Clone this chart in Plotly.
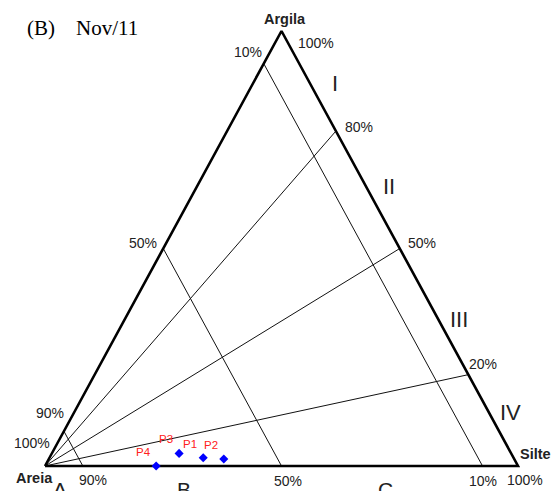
import plotly.graph_objects as go

# ---- data (percent compositions) ----
sample_names = ["P1", "P2", "P3", "P4"]
sample_sand = [65.6, 61.4, 70.2, 76.5]
sample_silt = [32.5, 37.0, 26.9, 23.5]
sample_clay = [1.9, 1.6, 2.9, 0.0]

# constant-sand guide lines (as drawn) and clay-in-mud rays (as drawn)
sand_line_levels = [92.0, 50.0, 7.5]
clay_ray_levels = [77.0, 50.0, 21.0]

left_tick_labels = ["10%", "50%", "90%", "100%"]
right_tick_labels = ["100%", "80%", "50%", "20%"]
base_tick_labels = ["90%", "50%", "10%", "100%"]
region_labels = ["I", "II", "III", "IV"]
class_labels = ["A", "B", "C"]
vertex_labels = ["Argila", "Areia", "Silte"]

W, H = 554, 491


def tern_xy(sand, silt, clay):
    tot = sand + silt + clay
    s, c = silt / tot * 100, clay / tot * 100
    return s + 0.5 * c, c


fig = go.Figure()
LINE = dict(color="#111111", width=1)

# constant sand lines
for s in sand_line_levels:
    x0, y0 = tern_xy(s, 0, 100 - s)
    x1, y1 = tern_xy(s, 100 - s, 0)
    fig.add_trace(go.Scatter(x=[x0, x1], y=[y0, y1], mode="lines", line=LINE,
                             hoverinfo="skip", showlegend=False))
# rays from the sand vertex
for c in clay_ray_levels:
    x0, y0 = tern_xy(100, 0, 0)
    x1, y1 = tern_xy(0, 100 - c, c)
    fig.add_trace(go.Scatter(x=[x0, x1], y=[y0, y1], mode="lines", line=LINE,
                             hoverinfo="skip", showlegend=False))

# triangle outline
verts = [tern_xy(100, 0, 0), tern_xy(0, 100, 0), tern_xy(0, 0, 100), tern_xy(100, 0, 0)]
fig.add_trace(go.Scatter(x=[v[0] for v in verts], y=[v[1] for v in verts], mode="lines",
                         line=dict(color="#000000", width=2.6), hoverinfo="skip",
                         showlegend=False))

# samples
px, py = zip(*[tern_xy(a, b, c) for a, b, c in zip(sample_sand, sample_silt, sample_clay)])
fig.add_trace(go.Scatter(x=list(px), y=list(py), mode="markers",
                         marker=dict(symbol="diamond", size=7, color="#0000ff"),
                         showlegend=False, cliponaxis=False))

annotations = []
for name, x, y in zip(sample_names, px, py):
    annotations.append(dict(x=x, y=y, xref="x", yref="y", text=name, showarrow=False,
                            xshift=-13, yshift=14,
                            font=dict(family="Liberation Sans", size=11.5, color="#ff2020")))


def pix(text, x, y, size, bold=False, color="#222222", family="Liberation Sans",
        xanchor="center"):
    t = f"<b>{text}</b>" if bold else text
    annotations.append(dict(x=x / W, y=1 - y / H, xref="paper", yref="paper", text=t,
                            showarrow=False, xanchor=xanchor, yanchor="middle",
                            font=dict(family=family, size=size, color=color)))


for t, (x, y) in zip(left_tick_labels, [(248, 52), (143, 243), (50, 413), (32, 443)]):
    pix(t, x, y, 14)
for t, (x, y) in zip(right_tick_labels, [(316, 43), (359, 127), (422, 243), (483, 364)]):
    pix(t, x, y, 14)
for t, (x, y) in zip(base_tick_labels, [(93, 480), (288, 481), (483, 481), (525, 480)]):
    pix(t, x, y, 14)
for t, (x, y) in zip(region_labels, [(335, 83), (389, 187), (459, 319), (510, 412)]):
    pix(t, x, y, 22, color="#222222")
for t, (x, y) in zip(class_labels, [(60, 489), (184, 489), (385, 489)]):
    pix(t, x, y, 21, color="#222222")
for t, (x, y) in zip(vertex_labels, [(285, 19), (34, 478), (535, 454)]):
    pix(t, x, y, 14.5, bold=True)

pix("(B)", 25, 28, 21, color="#000000", family="Liberation Serif", xanchor="left")
pix("Nov/11", 74, 28, 21, color="#000000", family="Liberation Serif", xanchor="left")

x_px_per = 473 / 100
y_px_per = 435 / 100
fig.update_layout(
    width=W, height=H,
    margin=dict(l=0, r=0, t=0, b=0),
    paper_bgcolor="white", plot_bgcolor="white",
    xaxis=dict(range=[-45 / x_px_per, (W - 45) / x_px_per], visible=False, fixedrange=True),
    yaxis=dict(range=[-(H - 466) / y_px_per, 466 / y_px_per], visible=False, fixedrange=True),
    annotations=annotations,
    showlegend=False,
)

fig.write_html(
    "out.html",
    config={"displayModeBar": False},
    post_script="document.body.style.margin='0';document.body.style.overflow='hidden';",
)
